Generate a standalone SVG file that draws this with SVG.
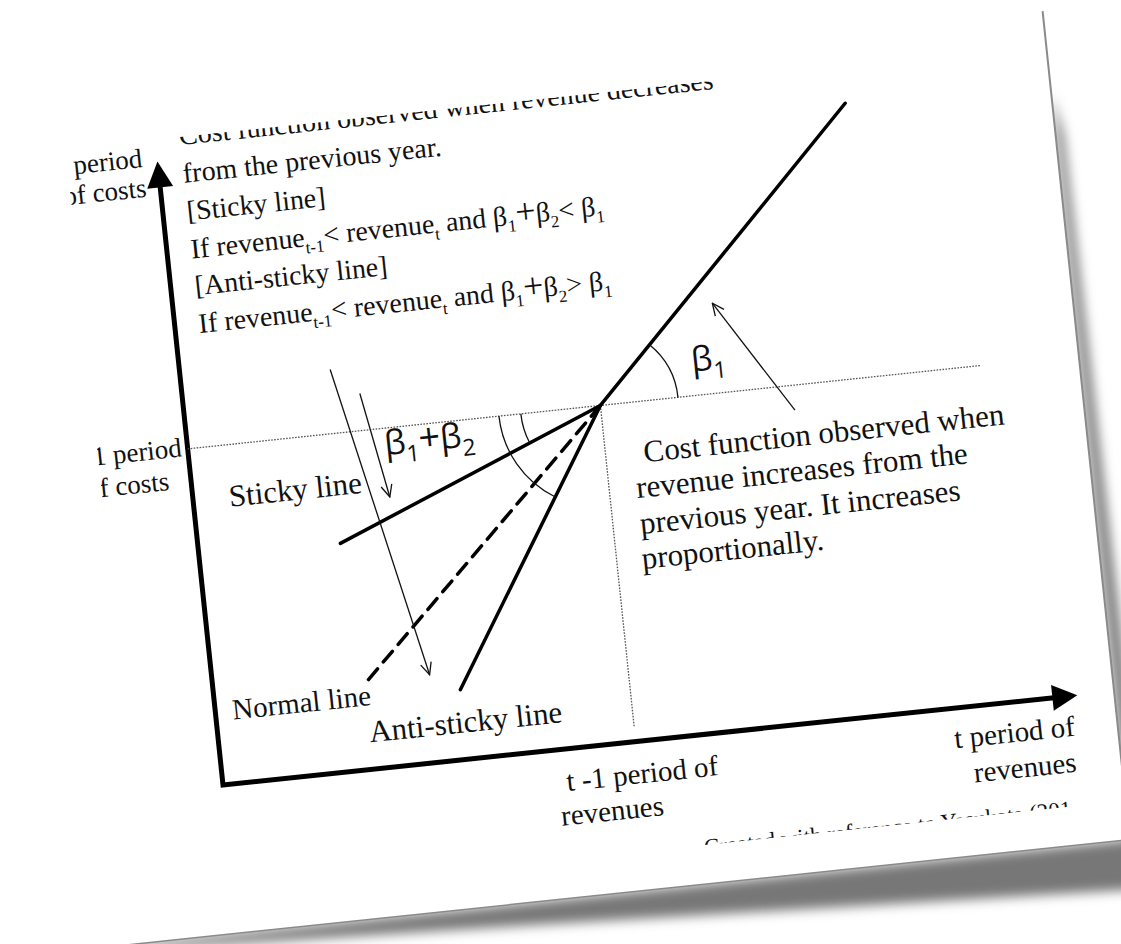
<svg xmlns="http://www.w3.org/2000/svg" width="1121" height="944" viewBox="0 0 1121 944">
<defs>
<style>
.t{font-family:"Liberation Serif","Times New Roman",serif;font-size:28px;fill:#111}
.lab{font-family:"Liberation Serif","Times New Roman",serif;font-size:31px;fill:#111}
.xl{font-family:"Liberation Serif","Times New Roman",serif;font-size:29px;fill:#111}
.sm{font-family:"Liberation Serif","Times New Roman",serif;font-size:27px;fill:#111}
.cr{font-family:"Liberation Serif","Times New Roman",serif;font-size:23px;fill:#111}
.g{font-family:"Open Sans","Noto Sans","DejaVu Sans",sans-serif;font-size:34px;fill:#111}
.thick{stroke:#000;stroke-width:3.5;fill:none;stroke-linecap:round}
.axis{stroke:#000;stroke-width:5;fill:none;stroke-linejoin:miter}
.thin{stroke:#111;stroke-width:1.3;fill:none}
.dot{stroke:#555;stroke-width:1.3;stroke-dasharray:1.6 1.4;fill:none}
</style>
<marker id="open" viewBox="0 0 14 14" refX="13" refY="7" markerWidth="14" markerHeight="14" orient="auto" markerUnits="userSpaceOnUse">
<path d="M1,1.5 L13,7 L1,12.5" fill="none" stroke="#111" stroke-width="1.3"/>
</marker>
<filter id="blur" x="-20%" y="-20%" width="140%" height="160%"><feGaussianBlur stdDeviation="6"/></filter>
<linearGradient id="fadeTop" x1="0" y1="0" x2="1" y2="0"><stop offset="0" stop-color="#888" stop-opacity="0"/><stop offset="0.08" stop-color="#888" stop-opacity="1"/></linearGradient>
<linearGradient id="fadeLeft" x1="0" y1="0" x2="0" y2="1"><stop offset="0" stop-color="#888" stop-opacity="0"/><stop offset="0.5" stop-color="#888" stop-opacity="1"/></linearGradient>
<clipPath id="crop" clipPathUnits="userSpaceOnUse"><rect x="-90" y="-649" width="950" height="759"/></clipPath>
<clipPath id="cropcr" clipPathUnits="userSpaceOnUse"><rect x="-90" y="-649" width="929" height="759"/></clipPath>
</defs>
<rect width="1121" height="944" fill="#fff"/>
<g transform="translate(223,785) rotate(-6)">
  <g id="page">
    <polygon points="-120,149 896,149 896,-600 904,-560 912,200 300,172 -120,154" fill="#777" filter="url(#blur)"/>
    <rect x="-136" y="-684" width="1032" height="833" fill="#fff"/>
    <line x1="-136" y1="-684" x2="896" y2="-684" stroke="url(#fadeTop)" stroke-width="1.5"/>
    <line x1="896" y1="-684" x2="896" y2="149" stroke="#8a8a8a" stroke-width="2"/>
    <line x1="-136" y1="149" x2="896" y2="149" stroke="#8a8a8a" stroke-width="1.5"/>
    <line x1="-136" y1="-684" x2="-136" y2="149" stroke="url(#fadeLeft)" stroke-width="1.5"/>
  </g>
  <g clip-path="url(#crop)">
    <g id="connectors">
      <polyline class="axis" points="0,-606 0,0 838,0"/>
      <polygon points="0,-627 -13,-601 13,-601" fill="#000"/>
      <polygon points="859,0 834,-13 834,13" fill="#000"/>
      <line class="dot" x1="0" y1="-338" x2="797" y2="-338"/>
      <line class="dot" x1="415" y1="-338" x2="415" y2="-15"/>
      <line class="thick" x1="690" y1="-613" x2="415" y2="-338"/>
      <line class="thick" x1="415" y1="-338" x2="142" y2="-228"/>
      <line class="thick" x1="415" y1="-338" x2="155" y2="-89" stroke-dasharray="14 9" stroke-linecap="butt"/>
      <line class="thick" x1="415" y1="-338" x2="246" y2="-70"/>
      <path class="thin" d="M493,-338 A78,78 0 0 0 470.2,-393.2"/>
      <path class="thin" d="M335,-338 A80,80 0 0 0 340.8,-308.1"/>
      <path class="thin" d="M313,-338 A102,102 0 0 0 360.6,-251.7"/>
      <line class="thin" x1="608" y1="-313" x2="537" y2="-428" marker-end="url(#open)"/>
      <line class="thin" x1="150" y1="-402" x2="217" y2="-88" marker-end="url(#open)"/>
      <line class="thin" x1="177" y1="-375" x2="196" y2="-269" marker-end="url(#open)"/>
    </g>
    <g id="label-y-axis">
      <text class="sm" text-anchor="end" x="-15" y="-623">t period</text>
      <text class="sm" text-anchor="end" x="-14" y="-593">of costs</text>
    </g>
    <g id="label-y-prev">
      <text class="sm" text-anchor="end" x="-6" y="-331">t -1 period</text>
      <text class="sm" text-anchor="end" x="-22" y="-299">of costs</text>
    </g>
    <g id="note-decrease">
      <text class="t" x="24" y="-641">Cost function observed when revenue decreases</text>
      <text class="t" x="24" y="-603">from the previous year.</text>
      <text class="t" x="24" y="-565">[Sticky line]</text>
      <text class="t" x="24" y="-527">If revenue<tspan font-size="17" dy="7">t-1</tspan><tspan dy="-7">&lt; revenue</tspan><tspan font-size="17" dy="7">t</tspan><tspan dy="-7"> and β</tspan><tspan font-size="17" dy="7">1</tspan><tspan dy="-7" font-size="36">+</tspan><tspan>β</tspan><tspan font-size="17" dy="7">2</tspan><tspan dy="-7">&lt; β</tspan><tspan font-size="17" dy="7">1</tspan></text>
      <text class="t" x="24" y="-490">[Anti-sticky line]</text>
      <text class="t" x="24" y="-452">If revenue<tspan font-size="17" dy="7">t-1</tspan><tspan dy="-7">&lt; revenue</tspan><tspan font-size="17" dy="7">t</tspan><tspan dy="-7"> and β</tspan><tspan font-size="17" dy="7">1</tspan><tspan dy="-7" font-size="36">+</tspan><tspan>β</tspan><tspan font-size="17" dy="7">2</tspan><tspan dy="-7">&gt; β</tspan><tspan font-size="17" dy="7">1</tspan></text>
    </g>
    <g id="label-beta1">
      <text class="g" x="510" y="-362">β<tspan font-size="23" dy="9">1</tspan></text>
    </g>
    <g id="label-beta12">
      <text class="g" x="196" y="-311">β<tspan font-size="23" dy="9">1</tspan><tspan dy="-9" font-size="38">+</tspan>β<tspan font-size="23" dy="9">2</tspan></text>
    </g>
    <g id="note-increase">
      <text class="lab" x="453" y="-277">Cost function observed when</text>
      <text class="lab" x="442" y="-242">revenue increases from the</text>
      <text class="lab" x="442" y="-206">previous year. It increases</text>
      <text class="lab" x="440" y="-171">proportionally.</text>
    </g>
    <g id="label-sticky"><text class="lab" x="36" y="-276">Sticky line</text></g>
    <g id="label-normal"><text class="xl" x="17" y="-64">Normal line</text></g>
    <g id="label-anti"><text class="lab" x="151" y="-27">Anti-sticky line</text></g>
    <g id="label-x-prev">
      <text class="xl" x="342" y="42">t -1 period of</text>
      <text class="xl" x="333" y="76">revenues</text>
    </g>
    <g id="label-x-axis">
      <text class="xl" text-anchor="end" x="853" y="40">t period of</text>
      <text class="xl" text-anchor="end" x="851" y="76">revenues</text>
    </g>
  </g>
  <g id="credit" clip-path="url(#cropcr)"><text class="cr" x="472" y="120">Created with reference to Yasukata (2011)</text></g>
</g>
</svg>
